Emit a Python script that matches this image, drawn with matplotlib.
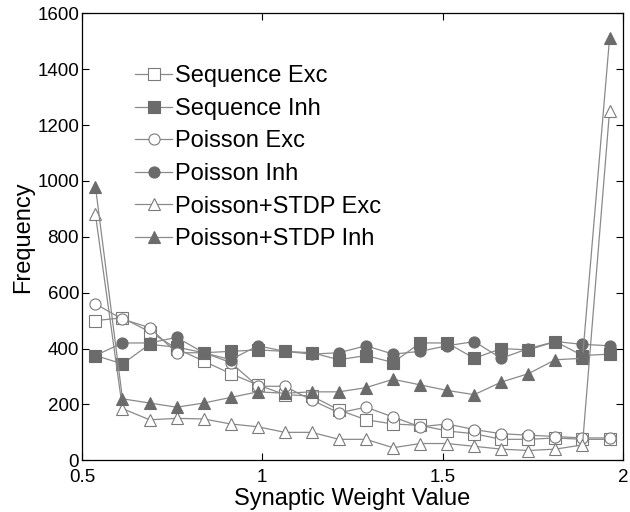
import numpy as np
import matplotlib; matplotlib.use("Agg")
import matplotlib.pyplot as plt

plt.rcParams["font.family"] = ["Liberation Sans", "DejaVu Sans"]

# bin centres of the synaptic weight histogram
weights = 0.5375 + 0.075 * np.arange(20)

seq_exc = [500, 510, 460, 400, 355, 310, 270, 235, 230, 180,
           145, 130, 125, 105, 95, 75, 75, 80, 75, 75]
seq_inh = [375, 345, 415, 405, 385, 390, 395, 390, 385, 360,
           375, 350, 420, 420, 365, 400, 395, 425, 375, 380]
poi_exc = [560, 505, 475, 385, 385, 350, 265, 265, 215, 170,
           190, 155, 120, 130, 110, 95, 90, 85, 80, 80]
poi_inh = [375, 420, 420, 440, 385, 360, 410, 390, 380, 385,
           410, 380, 390, 410, 425, 365, 400, 425, 415, 410]
stdp_exc = [880, 185, 145, 150, 148, 130, 120, 100, 100, 75,
            75, 45, 60, 60, 50, 40, 35, 40, 55, 1250]
stdp_inh = [980, 220, 205, 190, 205, 225, 245, 240, 245, 245,
            260, 290, 270, 250, 235, 280, 310, 360, 365, 1510]

labels = ["Sequence Exc", "Sequence Inh", "Poisson Exc", "Poisson Inh",
          "Poisson+STDP Exc", "Poisson+STDP Inh"]
series = [seq_exc, seq_inh, poi_exc, poi_inh, stdp_exc, stdp_inh]
markers = ["s", "s", "o", "o", "^", "^"]
filled = [False, True, False, True, False, True]

LINE, FILL, EDGE = "#8a8a8a", "#6b6b6b", "#7a7a7a"

fig = plt.figure(figsize=(6.3, 5.12), dpi=100)
ax = fig.add_axes([0.130, 0.101, 0.859, 0.873])
for y, lab, m, f in zip(series, labels, markers, filled):
    ax.plot(weights, y, color=LINE, lw=0.9, marker=m, ms=8,
            mfc=FILL if f else "white", mec=FILL if f else EDGE, mew=0.8,
            label=lab)

ax.set_xlim(0.5, 2)
ax.set_ylim(0, 1600)
ax.set_xticks([0.5, 1, 1.5, 2])
ax.set_xticklabels(["0.5", "1", "1.5", "2"])
ax.set_yticks(range(0, 1601, 200))
ax.tick_params(direction="in", top=True, right=True, length=5, width=0.8,
               labelsize=13.5, pad=2)
ax.tick_params(axis="x", pad=6)
for s in ax.spines.values():
    s.set_linewidth(0.9)
ax.set_xlabel("Synaptic Weight Value", fontsize=17, labelpad=2)
ax.set_ylabel("Frequency", fontsize=17, labelpad=2)

ax.legend(loc="upper left", bbox_to_anchor=(0.08, 0.905), frameon=False,
          fontsize=17, handlelength=1.6, handletextpad=0.1, labelspacing=0.45,
          borderaxespad=0)

fig.savefig("out.png", dpi=100)
